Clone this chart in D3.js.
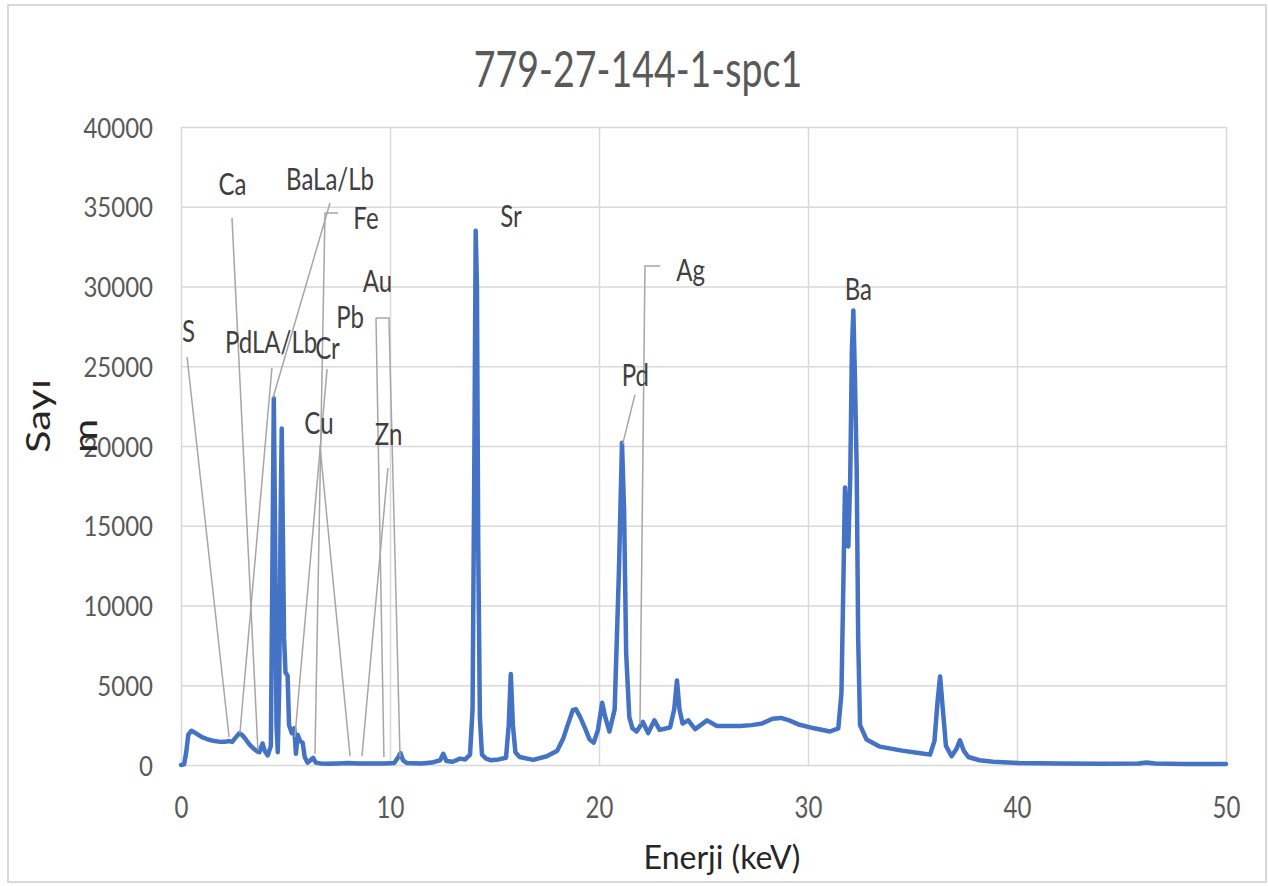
<!DOCTYPE html>
<html>
<head>
<meta charset="utf-8">
<script src="https://cdn.jsdelivr.net/npm/d3@7"></script>
<style>
body{margin:0;background:#fff;}
text{font-family:Lato, "Open Sans", sans-serif;}
</style>
</head>
<body>
<svg id="chart" width="1268" height="886"></svg>
<script>
// spectrum (keV, counts)
const energy = [0,0.15,0.25,0.35,0.5,0.7,1.0,1.3,1.6,1.9,2.1,2.3,2.45,2.6,2.8,2.95,3.1,3.3,3.5,3.65,3.75,3.9,4.0,4.15,4.3,
  4.37,4.44,4.5,4.57,4.63,4.7,4.77,4.82,4.87,4.93,5.0,5.1,5.17,5.3,5.42,5.5,5.58,5.7,5.82,5.92,6.05,6.2,6.32,6.45,6.7,
  7.0,7.5,8.0,8.5,9.0,9.7,10.2,10.4,10.5,10.62,10.8,11.5,12.0,12.4,12.55,12.7,13.0,13.35,13.6,13.83,13.95,14.03,14.1,
  14.16,14.22,14.3,14.4,14.6,14.8,15.2,15.55,15.68,15.78,15.88,16.0,16.2,16.85,17.5,18.0,18.3,18.5,18.75,18.9,19.1,
  19.3,19.55,19.75,19.95,20.15,20.3,20.5,20.75,20.95,21.1,21.2,21.3,21.45,21.6,21.8,22.1,22.35,22.65,22.9,23.4,23.6,
  23.73,23.85,24.0,24.27,24.6,25.17,25.64,26.2,26.75,27.3,27.8,28.3,28.7,29.1,29.6,30.3,31.05,31.45,31.6,31.7,31.77,
  31.86,31.93,32.02,32.1,32.17,32.25,32.33,32.4,32.49,32.8,33.44,34.5,35.3,35.84,36.05,36.2,36.32,36.45,36.6,36.87,
  37.1,37.27,37.45,37.67,38.2,38.85,40.1,42,44,45.8,46.2,46.6,48,50];
const counts = [0,50,800,1900,2150,2000,1750,1600,1500,1450,1450,1500,1450,1700,2000,1850,1600,1250,1000,850,800,1350,900,600,1200,
  12000,23000,15000,2500,800,5000,16000,21100,15000,8000,5800,5600,2500,2000,2300,700,1900,1500,1400,500,150,300,450,150,100,
  80,100,120,100,90,100,120,500,750,300,120,100,150,300,700,250,200,400,350,650,3500,18000,33500,
  30000,14000,3000,650,400,300,350,450,2500,5700,2500,800,500,320,550,900,1700,2500,3450,3500,3000,
  2400,1600,1400,2200,3900,3000,2100,3500,12000,20200,16000,7000,3000,2300,2100,2700,2000,2800,2200,2350,3500,
  5300,3500,2600,2800,2250,2800,2450,2450,2450,2500,2600,2900,2950,2800,2520,2300,2100,2300,4500,12000,17400,
  15000,13700,18000,26000,28500,24000,18500,8000,2500,1600,1150,900,750,650,1500,4000,5550,3500,1200,550,
  1000,1550,900,500,300,200,120,90,80,90,150,90,70,60];

const xTicks = [0,10,20,30,40,50];
const yTicks = [0,5000,10000,15000,20000,25000,30000,35000,40000];

// element labels: text, centre (keV, counts)
const labelText = ["S","Ca","BaLa/Lb","Fe","Au","Pb","PdLA/Lb","Cr","Cu","Zn","Sr","Ag","Pd","Ba"];
const labelE =    [0.36,2.46,7.13,8.85,9.40,8.09,4.31,7.01,6.60,9.93,15.79,24.38,21.74,32.41];
const labelC =    [27210,36430,36740,34330,30350,28120,26550,26180,21440,20750,34450,31040,24480,29850];

// leader lines, points in (keV, counts)
const leaders = [
  [[0.29,25580],[2.30,1756]],
  [[2.44,34300],[3.68,940]],
  [[4.35,24890],[2.82,2006]],
  [[7.13,35240],[4.40,23010]],
  [[7.51,34610],[6.89,34610],[6.41,700]],
  [[6.99,24830],[5.45,1756]],
  [[6.65,20000],[8.09,560]],
  [[9.90,18620],[8.66,560]],
  [[9.33,28030],[9.71,500]],
  [[9.33,28030],[9.95,28030],[10.48,500]],
  [[21.72,23220],[21.13,20100]],
  [[22.92,31290],[22.2,31290],[21.96,2570]]
];

const svg = d3.select("#chart");
const m = {left:181, right:1226, top:127, bottom:765};

svg.append("rect").attr("x",8).attr("y",5).attr("width",1258).attr("height",877)
  .attr("fill","#fff").attr("stroke","#d9d9d9").attr("stroke-width",2);

const x = d3.scaleLinear().domain([0,50]).range([m.left,m.right]);
const y = d3.scaleLinear().domain([0,40000]).range([m.bottom,m.top]);

// grid + y labels
const gy = svg.append("g").attr("transform",`translate(${m.left},0)`)
  .call(d3.axisLeft(y).tickValues(yTicks).tickFormat(d3.format("d"))
    .tickSize(-(m.right-m.left)).tickPadding(0));
gy.select(".domain").remove();
gy.selectAll("line").attr("stroke","#d9d9d9").attr("stroke-width",1.5);
gy.selectAll("text")
  .attr("x",null).attr("dy",null).attr("y","0.36em")
  .attr("transform","translate(-28,0) scale(1,1.16)")
  .attr("fill","#595959").style("font-size","24px").attr("text-anchor","end");

const gx = svg.append("g").attr("transform",`translate(0,${m.bottom})`)
  .call(d3.axisBottom(x).tickValues(xTicks).tickSize(-(m.bottom-m.top)).tickPadding(0));
gx.select(".domain").remove();
gx.selectAll("line").attr("stroke","#d9d9d9").attr("stroke-width",1.5);
gx.selectAll("text")
  .attr("y",0).attr("dy",null)
  .attr("transform","translate(0,53) scale(1,1.25)")
  .attr("fill","#595959").style("font-size","24px");

// spectrum
const line = d3.line().x((d,i)=>x(energy[i])).y(d=>y(d));
svg.append("path").datum(counts)
  .attr("d",line)
  .attr("fill","none").attr("stroke","#4472c4").attr("stroke-width",4.5)
  .attr("stroke-linejoin","round").attr("stroke-linecap","round");

// leader lines
const lead = d3.line().x(d=>x(d[0])).y(d=>y(d[1]));
svg.append("g").selectAll("path").data(leaders).join("path")
  .attr("d",lead).attr("fill","none").attr("stroke","#a6a6a6").attr("stroke-width",1.5);

// element labels
svg.append("g").selectAll("text").data(labelText).join("text")
  .attr("transform",(d,i)=>`translate(${x(labelE[i])},${y(labelC[i])}) scale(1,1.3)`)
  .attr("y","0.36em").attr("text-anchor","middle")
  .attr("fill","#404040").style("font-size","24px")
  .text(d=>d);

// title
svg.append("text").attr("transform","translate(638,87) scale(1,1.35)")
  .attr("text-anchor","middle").attr("fill","#595959").style("font-size","37.5px")
  .text("779-27-144-1-spc1");

// axis titles
svg.append("text").attr("transform","translate(722,869)")
  .attr("text-anchor","middle").attr("fill","#262626").style("font-size","32px")
  .text("Enerji (keV)");

svg.append("text").attr("transform","translate(50,453) scale(1,1.3) rotate(-90)")
  .attr("text-anchor","start").attr("fill","#262626").style("font-size","32px")
  .text("Sayı");
svg.append("text").attr("transform","translate(97,453) scale(1,1.3) rotate(-90)")
  .attr("text-anchor","start").attr("fill","#262626").style("font-size","32px")
  .text("m");
</script>
</body>
</html>
